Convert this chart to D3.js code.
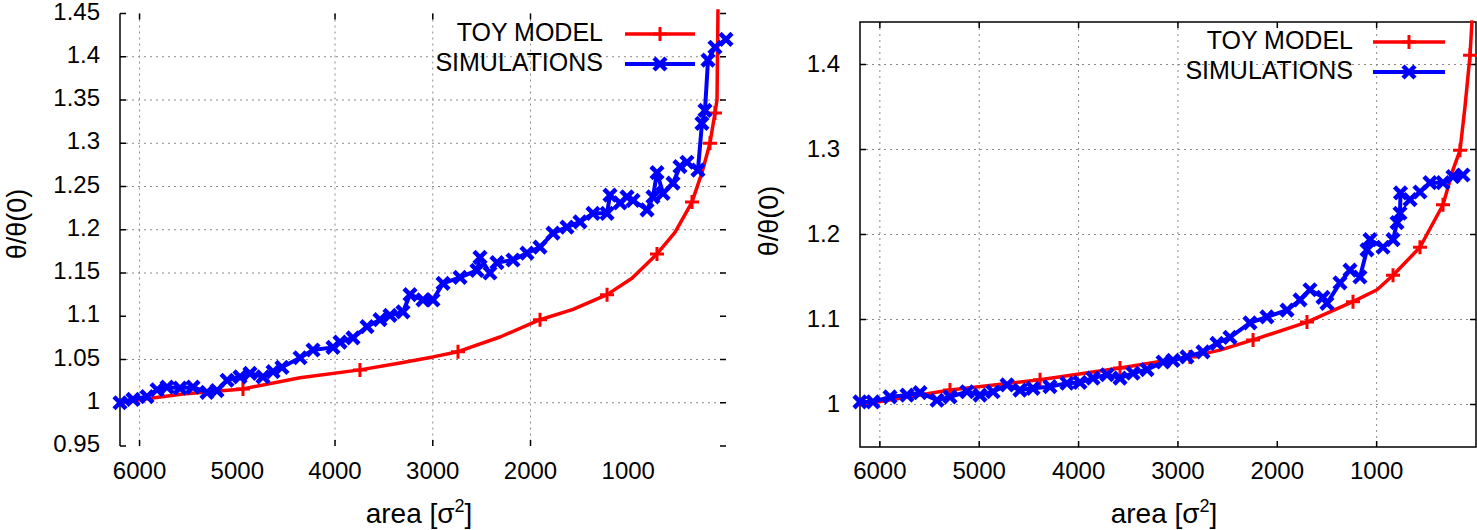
<!DOCTYPE html>
<html>
<head>
<meta charset="utf-8">
<script src="https://cdn.jsdelivr.net/npm/d3@7"></script>
<style>
  html, body { margin: 0; padding: 0; background: #fff; }
  svg { display: block; font-family: "Liberation Sans", Arial, Helvetica, sans-serif; }
</style>
</head>
<body>
<svg id="chart" width="1477" height="530"></svg>
<script>
// ---------------- DATA ----------------
const xTickValues = [6000, 5000, 4000, 3000, 2000, 1000];
const leftYTickValues = [0.95, 1.0, 1.05, 1.1, 1.15, 1.2, 1.25, 1.3, 1.35, 1.4, 1.45];
const rightYTickValues = [1.0, 1.1, 1.2, 1.3, 1.4];
const leftGridX = [6000, 4000, 3000, 2000];
const leftGridY = [1.0, 1.05, 1.15, 1.2, 1.25, 1.3, 1.35, 1.4];
const rightGridX = [6000, 5000, 4000, 3000, 1000];
const rightGridY = [1.0, 1.1, 1.2, 1.3, 1.4];
const seriesNames = ["TOY MODEL", "SIMULATIONS"];
const yTitle = "θ/θ(0)";

// Left panel: toy model
const leftToyArea  = [6200, 5965, 5555, 4942, 4358, 3745, 3335, 2998, 2742, 2312, 1903, 1565, 1217, 962, 706, 522, 348, 246, 164, 113, 92, 82];
const leftToyValue = [1.000, 1.004, 1.010, 1.016, 1.029, 1.038, 1.046, 1.053, 1.059, 1.076, 1.096, 1.108, 1.125, 1.144, 1.172, 1.197, 1.232, 1.266, 1.300, 1.335, 1.350, 1.455];
const leftToyMarkIdx = [3, 5, 8, 10, 12, 14, 16, 18, 19];

// Left panel: simulations
const leftSimArea  = [6200, 6067, 5924, 5821, 5719, 5586, 5453, 5310, 5208, 5105, 4972, 4870, 4737, 4634, 4543, 4358, 4225, 4021, 3949, 3816, 3673, 3540, 3438, 3305, 3233, 3100, 2998, 2895, 2721, 2548, 2517, 2415, 2343, 2179, 2036, 1903, 1770, 1627, 1494, 1361, 1217, 1187, 1084, 1013, 951, 808, 747, 706, 644, 542, 471, 399, 287, 246, 215, 184, 113, 0];
const leftSimValue = [1.000, 1.004, 1.007, 1.015, 1.018, 1.017, 1.018, 1.012, 1.014, 1.026, 1.030, 1.034, 1.030, 1.036, 1.041, 1.052, 1.061, 1.064, 1.070, 1.075, 1.088, 1.096, 1.101, 1.105, 1.125, 1.119, 1.119, 1.138, 1.145, 1.153, 1.168, 1.150, 1.162, 1.165, 1.173, 1.180, 1.196, 1.203, 1.209, 1.219, 1.219, 1.240, 1.231, 1.238, 1.234, 1.223, 1.238, 1.266, 1.242, 1.254, 1.273, 1.278, 1.269, 1.323, 1.338, 1.396, 1.411, 1.420];

// Right panel: toy model
const rightToyArea  = [6200, 6069, 5294, 4388, 3583, 3211, 2879, 2577, 2244, 1701, 1238, 996, 835, 564, 332, 232, 161, 111, 60, 40];
const rightToyValue = [1.000, 1.002, 1.017, 1.029, 1.043, 1.050, 1.056, 1.064, 1.076, 1.097, 1.121, 1.135, 1.152, 1.185, 1.235, 1.276, 1.299, 1.350, 1.411, 1.452];
const rightToyMarkIdx = [2, 3, 4, 6, 8, 9, 10, 12, 13, 14, 16, 18];

// Right panel: simulations
const rightSimArea  = [6200, 6069, 5898, 5727, 5596, 5425, 5294, 5123, 4992, 4861, 4720, 4590, 4459, 4288, 4117, 3986, 3855, 3714, 3583, 3452, 3311, 3150, 3050, 2909, 2748, 2607, 2476, 2275, 2104, 1902, 1771, 1671, 1540, 1500, 1369, 1268, 1168, 1097, 1067, 936, 835, 795, 765, 760, 664, 564, 463, 332, 232, 131];
const rightSimValue = [1.003, 1.003, 1.009, 1.011, 1.014, 1.005, 1.009, 1.015, 1.011, 1.015, 1.023, 1.017, 1.019, 1.021, 1.025, 1.026, 1.031, 1.035, 1.031, 1.037, 1.041, 1.050, 1.052, 1.056, 1.062, 1.072, 1.079, 1.096, 1.103, 1.111, 1.123, 1.135, 1.126, 1.119, 1.143, 1.158, 1.150, 1.182, 1.194, 1.185, 1.194, 1.214, 1.225, 1.249, 1.241, 1.250, 1.261, 1.261, 1.268, 1.270];

// ---------------- DRAW ----------------
const svg = d3.select("#chart");
const RED = "#ff0000", BLUE = "#0000ff";
const PLUS = "M-7,0L7,0M0,-7L0,7";
const CROSS = "M-6,-6L6,6M-6,6L6,-6";

function zip(a, v) { return a.map((d, i) => ({ a: d, v: v[i] })); }

function drawPanel(cfg) {
  const x = d3.scaleLinear().domain([6200, 0]).range(cfg.xRange);
  const y = d3.scaleLinear().domain([0.95, 1.45]).range(cfg.yRange);
  const g = svg.append("g");
  const [x0, x1] = cfg.xRange, [yb, yt] = cfg.yRange;

  // grid
  g.selectAll(".gx").data(cfg.gridX).join("line")
    .attr("x1", d => x(d)).attr("x2", d => x(d)).attr("y1", yt).attr("y2", yb)
    .attr("stroke", "#8a8a8a").attr("stroke-width", 1).attr("stroke-dasharray", "2,4");
  g.selectAll(".gy").data(cfg.gridY).join("line")
    .attr("x1", x0).attr("x2", x1).attr("y1", d => y(d)).attr("y2", d => y(d))
    .attr("stroke", "#8a8a8a").attr("stroke-width", 1).attr("stroke-dasharray", "2,4");

  // frame
  if (cfg.box) {
    g.append("rect").attr("x", x0).attr("y", yt).attr("width", x1 - x0).attr("height", yb - yt)
      .attr("fill", "none").attr("stroke", "#000").attr("stroke-width", 1.5);
  } else {
    g.append("line").attr("x1", x0).attr("x2", x0).attr("y1", yt).attr("y2", yb)
      .attr("stroke", "#000").attr("stroke-width", 1.5);
  }
  // ticks (inward, mirrored)
  const tl = 6;
  g.selectAll(".tyl").data(cfg.yTicks).join("line")
    .attr("x1", x0).attr("x2", x0 + tl).attr("y1", d => y(d)).attr("y2", d => y(d))
    .attr("stroke", "#000").attr("stroke-width", 1.5);
  g.selectAll(".tyr").data(cfg.yTicks).join("line")
    .attr("x1", x1 - tl).attr("x2", x1).attr("y1", d => y(d)).attr("y2", d => y(d))
    .attr("stroke", "#000").attr("stroke-width", 1.5);
  g.selectAll(".txb").data(cfg.tickX).join("line")
    .attr("x1", d => x(d)).attr("x2", d => x(d)).attr("y1", yb - tl).attr("y2", yb)
    .attr("stroke", "#000").attr("stroke-width", 1.5);
  g.selectAll(".txt").data(cfg.tickX).join("line")
    .attr("x1", d => x(d)).attr("x2", d => x(d)).attr("y1", yt).attr("y2", yt + tl)
    .attr("stroke", "#000").attr("stroke-width", 1.5);

  // tick labels
  g.selectAll(".ly").data(cfg.yTicks).join("text")
    .attr("x", x0 - 20).attr("y", d => y(d) + cfg.yLabelDy)
    .attr("text-anchor", "end").attr("font-size", 24).attr("fill", "#000")
    .text(d => String(+d.toFixed(2)));
  g.selectAll(".lx").data(xTickValues).join("text")
    .attr("x", d => x(d)).attr("y", 479)
    .attr("text-anchor", "middle").attr("font-size", 24).attr("fill", "#000")
    .text(d => d);

  // axis titles
  const xt = g.append("text").attr("x", (x0 + x1) / 2 - 4).attr("y", 523)
    .attr("text-anchor", "middle").attr("font-size", 28).attr("fill", "#000");
  xt.append("tspan").text("area [σ");
  xt.append("tspan").attr("font-size", 18).attr("dy", -11).text("2");
  xt.append("tspan").attr("dy", 11).text("]");
  g.append("text").attr("transform", `translate(${cfg.yTitleX},${cfg.yTitleY}) rotate(-90)`)
    .attr("text-anchor", "middle").attr("font-size", 27).attr("fill", "#000").text(yTitle);

  const line = d3.line().x(d => x(d.a)).y(d => y(d.v));
  const toy = zip(cfg.toyA, cfg.toyV);
  const sim = zip(cfg.simA, cfg.simV);

  // toy model line
  g.append("path").datum(toy).attr("d", line).attr("fill", "none")
    .attr("stroke", RED).attr("stroke-width", 3.5).attr("stroke-linejoin", "round");
  g.selectAll(".tm").data(cfg.toyMark.map(i => toy[i])).join("path")
    .attr("transform", d => `translate(${x(d.a)},${y(d.v)})`)
    .attr("d", PLUS).attr("stroke", RED).attr("stroke-width", 3);

  // simulations line
  g.append("path").datum(sim).attr("d", line).attr("fill", "none")
    .attr("stroke", BLUE).attr("stroke-width", 4).attr("stroke-linejoin", "round");
  g.selectAll(".sm").data(sim).join("path")
    .attr("transform", d => `translate(${x(d.a)},${y(d.v)})`)
    .attr("d", CROSS).attr("stroke", BLUE).attr("stroke-width", 4.5);

  // legend
  const L = cfg.legend;
  [0, 1].forEach(i => {
    const ly = L.y + i * 30;
    g.append("text").attr("x", L.textRight).attr("y", ly + 9)
      .attr("text-anchor", "end").attr("font-size", 25).attr("fill", "#000").text(seriesNames[i]);
    const col = i === 0 ? RED : BLUE;
    g.append("line").attr("x1", L.lineX0).attr("x2", L.lineX1).attr("y1", ly + 2).attr("y2", ly + 2)
      .attr("stroke", col).attr("stroke-width", i === 0 ? 3.5 : 4);
    g.append("path").attr("transform", `translate(${(L.lineX0 + L.lineX1) / 2},${ly + 2})`)
      .attr("d", i === 0 ? PLUS : CROSS)
      .attr("stroke", col).attr("stroke-width", i === 0 ? 3 : 4.5);
  });
}

drawPanel({
  xRange: [120, 726], yRange: [446, 13.5], box: false,
  gridX: leftGridX, gridY: leftGridY, tickX: leftGridX,
  yTicks: leftYTickValues, yLabelDy: 6,
  yTitleX: 26, yTitleY: 224,
  toyA: leftToyArea, toyV: leftToyValue, toyMark: leftToyMarkIdx,
  simA: leftSimArea, simV: leftSimValue,
  legend: { y: 32, textRight: 603, lineX0: 625, lineX1: 695 }
});

drawPanel({
  xRange: [860, 1476], yRange: [447, 22], box: true,
  gridX: rightGridX, gridY: rightGridY, tickX: xTickValues,
  yTicks: rightYTickValues, yLabelDy: 7,
  yTitleX: 778, yTitleY: 221,
  toyA: rightToyArea, toyV: rightToyValue, toyMark: rightToyMarkIdx,
  simA: rightSimArea, simV: rightSimValue,
  legend: { y: 40, textRight: 1353, lineX0: 1373, lineX1: 1445 }
});
</script>
</body>
</html>
